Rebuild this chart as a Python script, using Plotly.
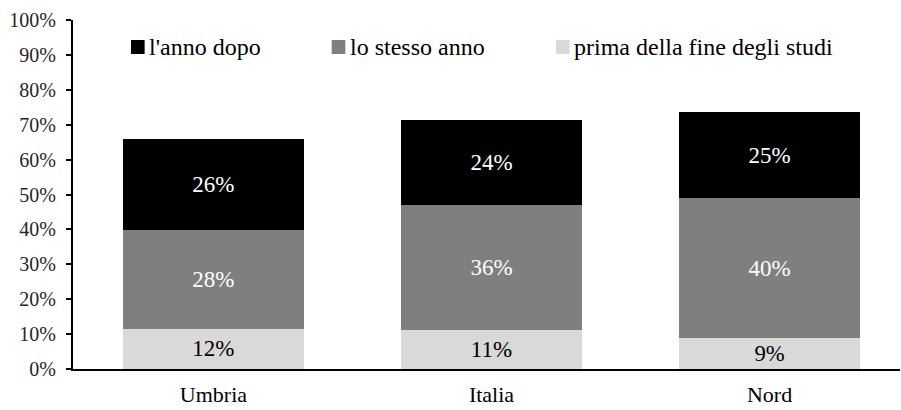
import plotly.graph_objects as go

categories = ["Umbria", "Italia", "Nord"]
series_names = ["prima della fine degli studi", "lo stesso anno", "l'anno dopo"]
prima = [11.5, 11.2, 8.8]
stesso = [28.3, 35.8, 40.1]
dopo = [26.1, 24.3, 24.8]
colors = ["#d9d9d9", "#7f7f7f", "#000000"]
text_colors = ["#000000", "#ffffff", "#ffffff"]
y_ticks = [0, 10, 20, 30, 40, 50, 60, 70, 80, 90, 100]
y_tick_labels = ["0%", "10%", "20%", "30%", "40%", "50%", "60%", "70%", "80%", "90%", "100%"]

# legend order and placement (paper coords of the key squares)
legend_names = ["l'anno dopo", "lo stesso anno", "prima della fine degli studi"]
legend_colors = ["#000000", "#7f7f7f", "#d9d9d9"]
legend_x = [0.0701, 0.3128, 0.5840]

FONT = "Liberation Serif, serif"

fig = go.Figure()
for name, vals, col, tcol in zip(series_names, [prima, stesso, dopo], colors, text_colors):
    fig.add_trace(go.Bar(
        x=categories, y=vals, name=name, marker=dict(color=col, line=dict(width=0)),
        texttemplate="%{y:.0f}%", textposition="inside", insidetextanchor="middle",
        textangle=0, insidetextfont=dict(family=FONT, size=23, color=tcol),
        showlegend=False, cliponaxis=False,
    ))

# legend keys and texts
KEY_W = 0.0165   # width of key square (paper x)
KEY_Y0, KEY_Y1 = 0.9026, 0.9427
for name, col, x0 in zip(legend_names, legend_colors, legend_x):
    fig.add_shape(type="rect", xref="paper", yref="paper", x0=x0, x1=x0 + KEY_W,
                  y0=KEY_Y0, y1=KEY_Y1, fillcolor=col, line=dict(width=0))
    fig.add_annotation(xref="paper", yref="paper", x=x0 + KEY_W + 0.004, y=(KEY_Y0 + KEY_Y1) / 2,
                       xanchor="left", yanchor="middle", text=name, showarrow=False,
                       font=dict(family=FONT, size=24, color="#000"), borderpad=0)

fig.update_layout(
    barmode="stack", bargap=0.35,
    width=901, height=410, showlegend=False,
    margin=dict(l=73, r=1, t=20, b=41, autoexpand=False),
    plot_bgcolor="white", paper_bgcolor="white",
    font=dict(family=FONT, color="#000", size=20),
    xaxis=dict(range=[-0.505, 2.469], showline=True, linecolor="#000", linewidth=2,
               ticks="outside", ticklen=5, tickcolor="rgba(0,0,0,0)", showgrid=False,
               tickfont=dict(family=FONT, size=22, color="#000"), automargin=False),
    yaxis=dict(range=[0, 100], tickmode="array", tickvals=y_ticks, ticktext=y_tick_labels,
               showline=True, linecolor="#000", linewidth=2, ticks="outside", ticklen=5,
               tickwidth=1.5, tickcolor="#000", showgrid=False, zeroline=False,
               ticklabelstandoff=6,
               tickfont=dict(family=FONT, size=20, color="#262626"), automargin=False),
)

fig.write_html("out.html", config={"displayModeBar": False},
               post_script="document.body.style.margin='0px';")
